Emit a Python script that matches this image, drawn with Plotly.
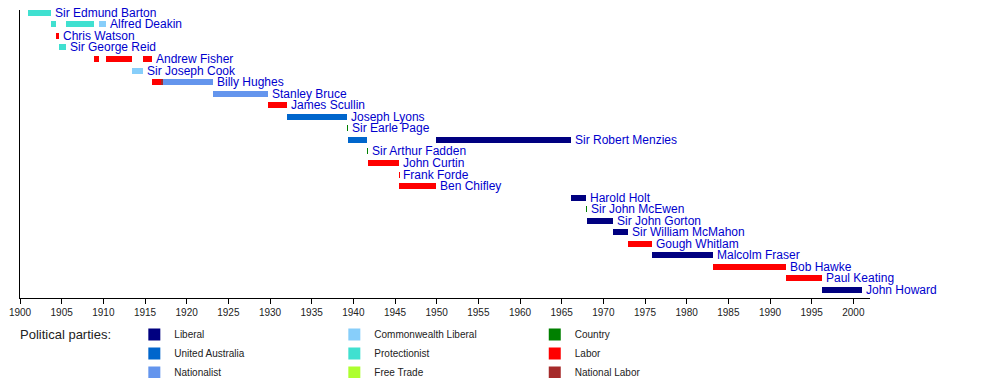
import plotly.graph_objects as go

# ---------------- data ----------------
prime_ministers = [
    "Sir Edmund Barton", "Alfred Deakin", "Chris Watson", "Sir George Reid",
    "Andrew Fisher", "Sir Joseph Cook", "Billy Hughes", "Stanley Bruce",
    "James Scullin", "Joseph Lyons", "Sir Earle Page", "Sir Robert Menzies",
    "Sir Arthur Fadden", "John Curtin", "Frank Forde", "Ben Chifley",
    "Harold Holt", "Sir John McEwen", "Sir John Gorton", "Sir William McMahon",
    "Gough Whitlam", "Malcolm Fraser", "Bob Hawke", "Paul Keating", "John Howard",
]

term_pm = [
    "Sir Edmund Barton", "Alfred Deakin", "Chris Watson", "Sir George Reid",
    "Alfred Deakin", "Andrew Fisher", "Alfred Deakin", "Andrew Fisher",
    "Sir Joseph Cook", "Andrew Fisher", "Billy Hughes", "Billy Hughes",
    "Billy Hughes", "Stanley Bruce", "James Scullin", "Joseph Lyons",
    "Sir Earle Page", "Sir Robert Menzies", "Sir Arthur Fadden", "John Curtin",
    "Frank Forde", "Ben Chifley", "Sir Robert Menzies", "Harold Holt",
    "Sir John McEwen", "Sir John Gorton", "Sir William McMahon", "Gough Whitlam",
    "Malcolm Fraser", "Bob Hawke", "Paul Keating", "John Howard",
]
term_start = [
    1901.00, 1903.73, 1904.32, 1904.63, 1905.54, 1908.87, 1909.45, 1910.32,
    1913.47, 1914.71, 1915.83, 1916.87, 1917.13, 1923.10, 1929.80, 1932.02,
    1939.27, 1939.32, 1941.66, 1941.76, 1945.51, 1945.53, 1949.97, 1966.07,
    1967.97, 1968.03, 1971.19, 1972.92, 1975.86, 1983.19, 1991.97, 1996.19,
]
term_end = [
    1903.73, 1904.32, 1904.63, 1905.54, 1908.87, 1909.45, 1910.32, 1913.47,
    1914.71, 1915.83, 1916.87, 1917.13, 1923.10, 1929.80, 1932.02, 1939.27,
    1939.32, 1941.66, 1941.76, 1945.51, 1945.53, 1949.97, 1966.07, 1967.97,
    1968.03, 1971.19, 1972.92, 1975.86, 1983.19, 1991.97, 1996.19, 2001.00,
]
term_party = [
    "Protectionist", "Protectionist", "Labor", "Protectionist",
    "Protectionist", "Labor", "Commonwealth Liberal", "Labor",
    "Commonwealth Liberal", "Labor", "Labor", "National Labor",
    "Nationalist", "Nationalist", "Labor", "United Australia",
    "Country", "United Australia", "Country", "Labor",
    "Labor", "Labor", "Liberal", "Liberal",
    "Country", "Liberal", "Liberal", "Labor",
    "Liberal", "Labor", "Labor", "Liberal",
]

parties = [
    "Liberal", "United Australia", "Nationalist",
    "Commonwealth Liberal", "Protectionist", "Free Trade",
    "Country", "Labor", "National Labor",
]
party_colors = [
    "#000080", "#0066CC", "#6495ED",
    "#87CEFA", "#40E0D0", "#ADFF2F",
    "#008000", "#FF0000", "#A52A2A",
]
party_legend = [
    "legend", "legend", "legend",
    "legend2", "legend2", "legend2",
    "legend3", "legend3", "legend3",
]

tick_years = list(range(1900, 2001, 5))

FONT = "Liberation Sans, Arial, Helvetica, sans-serif"
row_of = {name: i for i, name in enumerate(prime_ministers)}

fig = go.Figure()

for party, color, leg in zip(parties, party_colors, party_legend):
    idx = [i for i, p in enumerate(term_party) if p == party]
    if idx:
        ys = [row_of[term_pm[i]] for i in idx]
        bases = [term_start[i] for i in idx]
        lens = [term_end[i] - term_start[i] for i in idx]
    else:
        ys, bases, lens = [None], [None], [None]
    fig.add_trace(go.Bar(
        orientation="h", y=ys, x=lens, base=bases, width=0.52,
        name=party, marker=dict(color=color, line=dict(width=0)),
        legend=leg, showlegend=True, hoverinfo="skip",
    ))

# labels at the end of each PM's last term
for name in prime_ministers:
    end = max(e for p, e in zip(term_pm, term_end) if p == name)
    fig.add_annotation(
        x=end, y=row_of[name], xref="x", yref="y", text=name,
        showarrow=False, xanchor="left", yanchor="middle", xshift=2,
        font=dict(family=FONT, size=12, color="#0000CD"),
    )

fig.add_annotation(
    x=-0.002, y=-0.128, xref="paper", yref="paper", text="Political parties:",
    showarrow=False, xanchor="left", yanchor="middle",
    font=dict(family=FONT, size=13, color="#222222"),
)

leg_common = dict(
    orientation="v", xanchor="left", yanchor="top", y=-0.076,
    bgcolor="rgba(0,0,0,0)", borderwidth=0, traceorder="normal",
    font=dict(family=FONT, size=10, color="#222222"),
    itemclick=False, itemdoubleclick=False,
)

fig.update_layout(
    width=1000, height=378,
    margin=dict(l=20, r=130, t=10, b=80, autoexpand=False),
    paper_bgcolor="white", plot_bgcolor="white",
    barmode="overlay", bargap=0,
    showlegend=True,
    legend=dict(x=0.1345, **leg_common),
    legend2=dict(x=0.3698, **leg_common),
    legend3=dict(x=0.6056, **leg_common),
    xaxis=dict(
        range=[1900, 2002], tickvals=tick_years,
        ticktext=[str(y) for y in tick_years],
        showgrid=False, zeroline=False, showline=True,
        linecolor="black", linewidth=1,
        ticks="outside", ticklen=5, tickcolor="black", tickwidth=1,
        tickfont=dict(family=FONT, size=10, color="#222222"),
        fixedrange=True,
    ),
    yaxis=dict(
        range=[24.69, -0.24], showgrid=False, zeroline=False,
        showline=True, linecolor="black", linewidth=1,
        showticklabels=False, ticks="", fixedrange=True,
    ),
)

fig.write_html(
    "out.html",
    config={"displayModeBar": False},
    post_script="document.body.style.margin='0';document.body.style.padding='0';",
)
